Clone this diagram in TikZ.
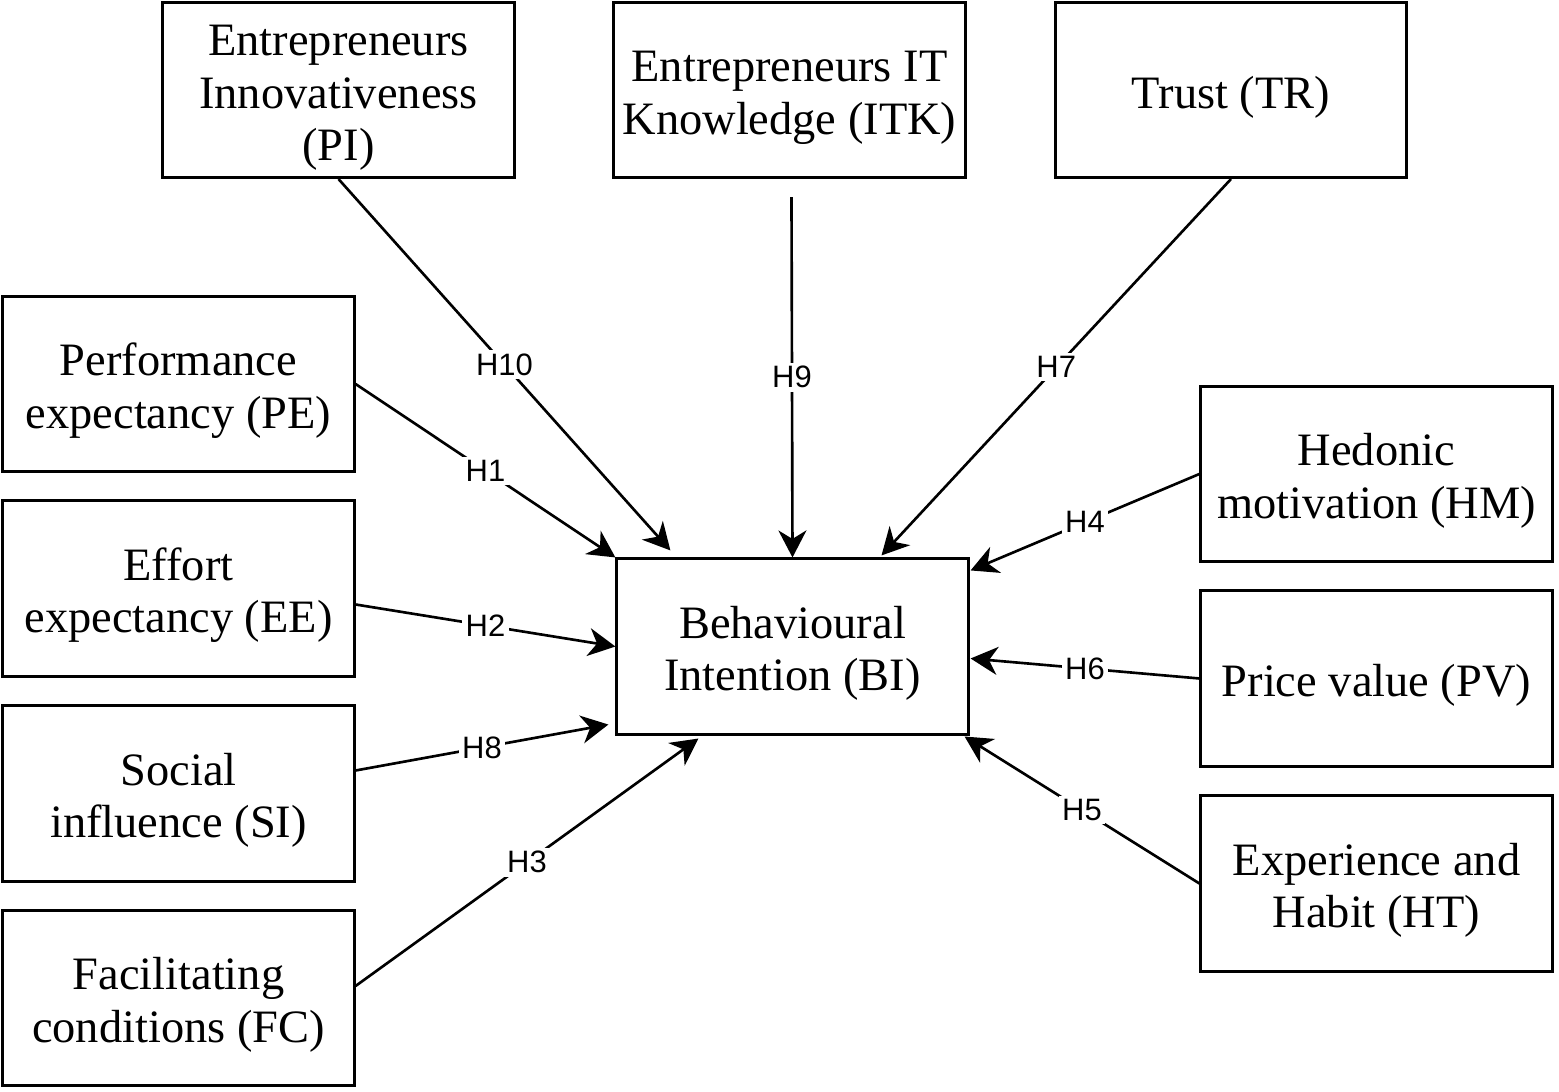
\documentclass[tikz,border=0pt]{standalone}
\usepackage{fontspec}
\setmainfont{Liberation Serif}
\newfontfamily\hypfont{Liberation Sans}
\usepackage{tikz}
\usetikzlibrary{arrows.meta,calc}
\newcommand{\boxstrut}{\rule{0pt}{0.46cm}}

\begin{document}
\begin{tikzpicture}[x=0.01cm,y=-0.01cm,
	box/.style={draw,line width=0.85pt,minimum width=3.51cm,minimum height=1.75cm,inner sep=0pt,align=center,font=\fontsize{13.2}{14.9}\selectfont},
	link/.style={-{Stealth[length=0.27cm,width=0.28cm,inset=0.085cm]},line width=0.75pt},
	hyp/.style={fill=white,inner sep=1pt,font=\hypfont\fontsize{8.8}{10}\selectfont}]
				\useasboundingbox (0,0) rectangle (1559,1092);
				
				\node[box] (PI) at (338.5,90) {\boxstrut Entrepreneurs\\Innovativeness\\(PI)};
				\node[box] (ITK) at (789.5,90) {\boxstrut Entrepreneurs IT\\Knowledge (ITK)};
				\node[box] (TR) at (1231,90) {\boxstrut Trust (TR)};
				
				\node[box] (PE) at (178.5,384) {\boxstrut Performance\\expectancy (PE)};
				\node[box] (EE) at (178.5,588.5) {\boxstrut Effort\\expectancy (EE)};
				\node[box] (SI) at (178.5,793.5) {\boxstrut Social\\influence (SI)};
				\node[box] (FC) at (178.5,998) {\boxstrut Facilitating\\conditions (FC)};
				
				\node[box] (BI) at (792.5,646.5) {\boxstrut Behavioural\\Intention (BI)};
				
				\node[box] (HM) at (1376.5,474) {\boxstrut Hedonic\\motivation (HM)};
				\node[box] (PV) at (1376.5,678.5) {\boxstrut Price value (PV)};
				\node[box] (HT) at (1376.5,883.5) {\boxstrut Experience and\\Habit (HT)};
				
				\draw[link] (PI.south) -- node[hyp] {H10} ($(BI.north west)+(55,-7)$);
				\draw[link] ($(ITK.south)+(2,18)$) -- node[hyp] {H9} (BI.north);
				\draw[link] (TR.south) -- node[hyp] {H7} ($(BI.north)+(89,-2)$);
				
				\draw[link] (PE.east) -- node[hyp] {H1} (BI.north west);
				\draw[link] ($(EE.east)+(0,16)$) -- node[hyp] {H2} (BI.west);
				\draw[link] ($(SI.east)+(0,-23)$) -- node[hyp] {H8} ($(BI.south west)+(-7,-11)$);
				\draw[link] ($(FC.east)+(0,-12)$) -- node[hyp] {H3} ($(BI.south west)+(83,3)$);
				
				\draw[link] (HM.west) -- node[hyp] {H4} ($(BI.north east)+(1,13)$);
				\draw[link] (PV.west) -- node[hyp] {H6} ($(BI.east)+(1,12)$);
				\draw[link] (HT.west) -- node[hyp] {H5} ($(BI.south east)+(-5,1)$);
				
\end{tikzpicture}
\end{document}
